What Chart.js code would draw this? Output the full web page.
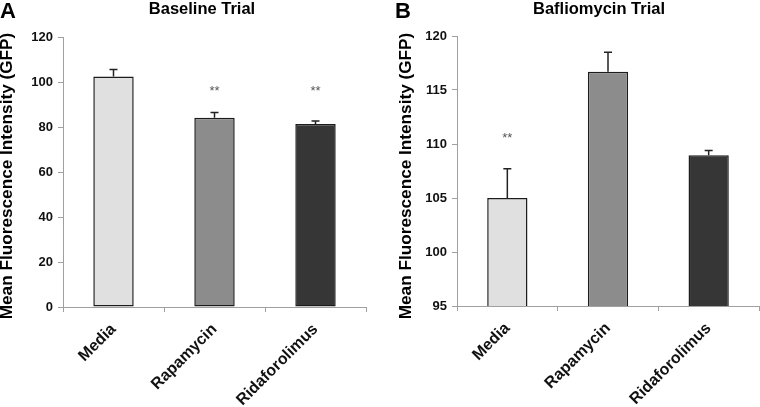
<!DOCTYPE html>
<html>
<head>
<meta charset="utf-8">
<script src="https://cdn.jsdelivr.net/npm/chart.js@4.4.1/dist/chart.umd.min.js"></script>
<style>
  body { margin: 0; background: #fff; }
  .panel { position: absolute; top: 0; width: 380px; height: 407px; }
</style>
</head>
<body>
<div class="panel" style="left:0"><canvas id="chartA" width="380" height="407"></canvas></div>
<div class="panel" style="left:380px"><canvas id="chartB" width="380" height="407"></canvas></div>
<script>
const categories = ["Media", "Rapamycin", "Ridaforolimus"];
const barColors = ["#e0e0e0", "#8c8c8c", "#363636"];

// panel A - baseline
const baselineMeans = [102.5, 84.1, 81.3];
const baselineErrors = [3.1, 2.3, 1.4];
const baselineStars = ["", "**", "**"];
const baselineTicks = [0, 20, 40, 60, 80, 100, 120];

// panel B - bafilomycin
const bafMeans = [105.0, 116.7, 108.95];
const bafErrors = [2.7, 1.8, 0.45];
const bafStars = ["**", "", ""];
const bafTicks = [95, 100, 105, 110, 115, 120];

const yTitle = "Mean Fluorescence Intensity (GFP)";
const FONT = "'Liberation Sans', Arial, sans-serif";
Chart.defaults.font.family = FONT;

// error bars, significance stars, panel letter, heading and y title
const decorations = {
  id: 'decorations',
  afterDatasetsDraw(chart, args, opts) {
    const ctx = chart.ctx;
    const yScale = chart.scales.y;
    const meta = chart.getDatasetMeta(0);
    ctx.save();
    ctx.strokeStyle = '#222';
    ctx.lineWidth = 1.5;
    meta.data.forEach((bar, i) => {
      const top = yScale.getPixelForValue(opts.means[i] + opts.errors[i]);
      ctx.beginPath();
      ctx.moveTo(bar.x, bar.y);
      ctx.lineTo(bar.x, top);
      ctx.moveTo(bar.x - 4, top);
      ctx.lineTo(bar.x + 4, top);
      ctx.stroke();
      if (opts.stars[i]) {
        ctx.fillStyle = '#555';
        ctx.font = "13px " + FONT;
        ctx.textAlign = 'center';
        ctx.textBaseline = 'middle';
        ctx.fillText(opts.stars[i], bar.x, yScale.getPixelForValue(opts.starLevel) + 2);
      }
    });
    ctx.fillStyle = '#000';
    ctx.textBaseline = 'alphabetic';
    ctx.textAlign = 'left';
    ctx.font = "bold 22px " + FONT;
    ctx.fillText(opts.letter, opts.letterX, 18);
    ctx.textAlign = 'center';
    ctx.font = "bold 16.5px " + FONT;
    ctx.fillText(opts.title, opts.titleX, 14);

    // rotated y axis title
    ctx.translate(opts.yTitleX, 176);
    ctx.rotate(-Math.PI / 2);
    ctx.textBaseline = 'middle';
    ctx.font = "bold 17.2px " + FONT;
    ctx.fillText(yTitle, 0, 0);
    ctx.restore();
  }
};

function makeChart(id, means, errors, stars, ticks, extra) {
  return new Chart(document.getElementById(id), {
    type: 'bar',
    data: {
      labels: categories,
      datasets: [{
        data: means,
        backgroundColor: barColors,
        borderColor: '#1c1c1c',
        borderWidth: 1.5,
        borderSkipped: false,
        barPercentage: 0.4,
        categoryPercentage: 1.0
      }]
    },
    options: {
      responsive: false,
      animation: false,
      layout: { padding: { top: extra.top, right: extra.right, left: 0, bottom: 0 } },
      plugins: {
        legend: { display: false },
        tooltip: { enabled: false },
        decorations: {
          means: means, errors: errors, stars: stars,
          starLevel: extra.starLevel,
          letter: extra.letter, letterX: extra.letterX,
          title: extra.title, titleX: extra.titleX,
          yTitleX: extra.yTitleX
        }
      },
      scales: {
        x: {
          grid: { display: true, drawOnChartArea: false, drawTicks: true, tickLength: 5, color: '#a0a0a0', offset: true },
          border: { color: '#a0a0a0', width: 1 },
          ticks: {
            color: '#111',
            font: { size: 16, weight: 'bold' },
            minRotation: 45, maxRotation: 45,
            padding: 8
          },
          afterFit: s => { s.height = extra.xHeight; }
        },
        y: {
          min: ticks[0],
          max: ticks[ticks.length - 1],
          afterBuildTicks: s => { s.ticks = ticks.map(v => ({ value: v })); },
          grid: { display: true, drawOnChartArea: false, drawTicks: true, tickLength: 5, color: '#a0a0a0' },
          border: { color: '#a0a0a0', width: 1 },
          ticks: { color: '#111', font: { size: 13, weight: 'bold' }, padding: 5 },
          afterFit: s => { s.width = extra.yWidth; }
        }
      }
    },
    plugins: [decorations]
  });
}

makeChart('chartA', baselineMeans, baselineErrors, baselineStars, baselineTicks, {
  top: 37, right: 14, xHeight: 100, yWidth: 63, yTitleX: 7,
  starLevel: 96.5, letter: 'A', letterX: 0, title: 'Baseline Trial', titleX: 202
});
makeChart('chartB', bafMeans, bafErrors, bafStars, bafTicks, {
  top: 36, right: 1, xHeight: 101, yWidth: 77, yTitleX: 26,
  starLevel: 110.7, letter: 'B', letterX: 15, title: 'Bafliomycin Trial', titleX: 219
});
</script>
</body>
</html>
